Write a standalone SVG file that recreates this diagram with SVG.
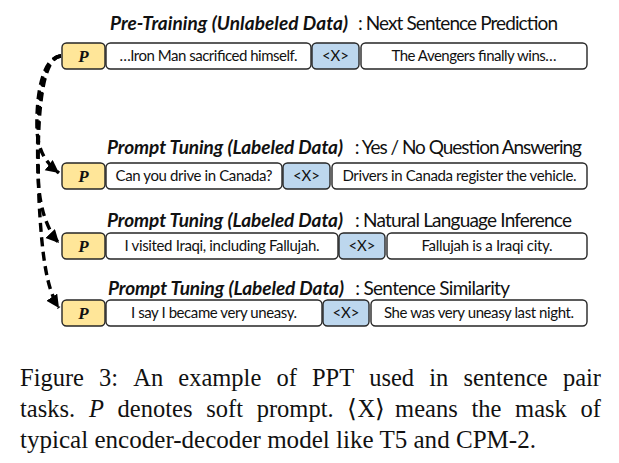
<svg xmlns="http://www.w3.org/2000/svg" width="619" height="463" viewBox="0 0 619 463">
<style>
.bx{stroke:#262626;stroke-width:1.4;fill:#ffffff}
.p{fill:#ffe699}
.x{fill:#bdd7ee}
.t{font-family:Lato,"Open Sans",sans-serif;font-size:15px;fill:#111;text-anchor:middle}
.pl{font-family:"Liberation Serif",serif;font-weight:bold;font-style:italic;font-size:17px;fill:#111;text-anchor:middle}
.h{font-family:Lato,"Open Sans",sans-serif;font-size:19px;fill:#111}
.hb{font-weight:bold;font-style:italic}
.cap{font-family:"Liberation Serif","Times New Roman",serif;font-size:24.5px;fill:#111}
.con{fill:none;stroke:#000;stroke-width:3.4;stroke-dasharray:9 5.5}
</style>
<defs>
<marker id="ah" markerUnits="userSpaceOnUse" markerWidth="16" markerHeight="14" refX="13" refY="6.5" orient="auto">
<path d="M0,0 L13,6.5 L0,13 z" fill="#000"/>
</marker>
</defs>

<g id="row1">
<text class="h" y="30"><tspan class="hb" x="110" textLength="238">Pre-Training (Unlabeled Data)</tspan><tspan x="354" textLength="204"> : Next Sentence Prediction</tspan></text>
<rect class="bx p" x="62" y="43" width="43" height="26" rx="4.5"/>
<text class="pl" x="83.5" y="62">P</text>
<rect class="bx" x="106" y="43" width="205" height="26" rx="4.5"/>
<text class="t" x="208.5" y="61" textLength="178">…Iron Man sacrificed himself.</text>
<rect class="bx x" x="312" y="43" width="47" height="26" rx="4.5"/>
<text class="t" x="335.5" y="61">&lt;X&gt;</text>
<rect class="bx" x="361" y="43" width="226" height="26" rx="4.5"/>
<text class="t" x="474" y="61" textLength="165">The Avengers finally wins…</text>
</g>

<g id="row2">
<text class="h" y="154"><tspan class="hb" x="107" textLength="236">Prompt Tuning (Labeled Data)</tspan><tspan x="351" textLength="231"> : Yes / No Question Answering</tspan></text>
<rect class="bx p" x="62" y="163" width="43" height="26" rx="4.5"/>
<text class="pl" x="83.5" y="182">P</text>
<rect class="bx" x="106" y="163" width="176" height="26" rx="4.5"/>
<text class="t" x="194" y="181" textLength="157">Can you drive in Canada?</text>
<rect class="bx x" x="283" y="163" width="47" height="26" rx="4.5"/>
<text class="t" x="306.5" y="181">&lt;X&gt;</text>
<rect class="bx" x="332" y="163" width="255" height="26" rx="4.5"/>
<text class="t" x="459.5" y="181" textLength="234">Drivers in Canada register the vehicle.</text>
</g>

<g id="row3">
<text class="h" y="227"><tspan class="hb" x="107" textLength="236">Prompt Tuning (Labeled Data)</tspan><tspan x="351" textLength="221"> : Natural Language Inference</tspan></text>
<rect class="bx p" x="62" y="233" width="43" height="26" rx="4.5"/>
<text class="pl" x="83.5" y="252">P</text>
<rect class="bx" x="106" y="233" width="232" height="26" rx="4.5"/>
<text class="t" x="222" y="251" textLength="195">I visited Iraqi, including Fallujah.</text>
<rect class="bx x" x="339" y="233" width="46" height="26" rx="4.5"/>
<text class="t" x="362" y="251">&lt;X&gt;</text>
<rect class="bx" x="387" y="233" width="200" height="26" rx="4.5"/>
<text class="t" x="487" y="251" textLength="131">Fallujah is a Iraqi city.</text>
</g>

<g id="row4">
<text class="h" y="295"><tspan class="hb" x="108" textLength="236">Prompt Tuning (Labeled Data)</tspan><tspan x="351" textLength="159"> : Sentence Similarity</tspan></text>
<rect class="bx p" x="62" y="300" width="43" height="26" rx="4.5"/>
<text class="pl" x="83.5" y="319">P</text>
<rect class="bx" x="106" y="300" width="216" height="26" rx="4.5"/>
<text class="t" x="214" y="318" textLength="166">I say I became very uneasy.</text>
<rect class="bx x" x="323" y="300" width="46" height="26" rx="4.5"/>
<text class="t" x="346" y="318">&lt;X&gt;</text>
<rect class="bx" x="371" y="300" width="216" height="26" rx="4.5"/>
<text class="t" x="479" y="318" textLength="190">She was very uneasy last night.</text>
</g>

<g id="connectors">
<path class="con" d="M61,56 C41,57 36,100 37,130 C38,151 46,163 59,173" marker-end="url(#ah)"/>
<path class="con" d="M61,56 C41,57 36,110 38,175 C39,205 46,229 59,243" marker-end="url(#ah)"/>
<path class="con" d="M61,56 C41,57 36,120 39,200 C42,258 47,290 59,308" marker-end="url(#ah)"/>
</g>

<g id="caption">
<text class="cap" y="386"><tspan x="20">Figure</tspan><tspan x="99.1">3:</tspan><tspan x="133.3">An</tspan><tspan x="178.3">example</tspan><tspan x="276.4">of</tspan><tspan x="311.9">PPT</tspan><tspan x="369.2">used</tspan><tspan x="429.2">in</tspan><tspan x="463.4">sentence</tspan><tspan x="562.9">pair</tspan></text>
<text class="cap" y="417"><tspan x="20">tasks.</tspan><tspan x="88.9" font-style="italic">P</tspan><tspan x="117.6">denotes</tspan><tspan x="206.2">soft</tspan><tspan x="256.7">prompt.</tspan><tspan x="347.4">⟨X⟩</tspan><tspan x="395.1">means</tspan><tspan x="471.5">the</tspan><tspan x="515.1">mask</tspan><tspan x="580.6">of</tspan></text>
<text class="cap" x="20" y="448" textLength="516" lengthAdjust="spacingAndGlyphs">typical encoder-decoder model like T5 and CPM-2.</text>
</g>
</svg>
